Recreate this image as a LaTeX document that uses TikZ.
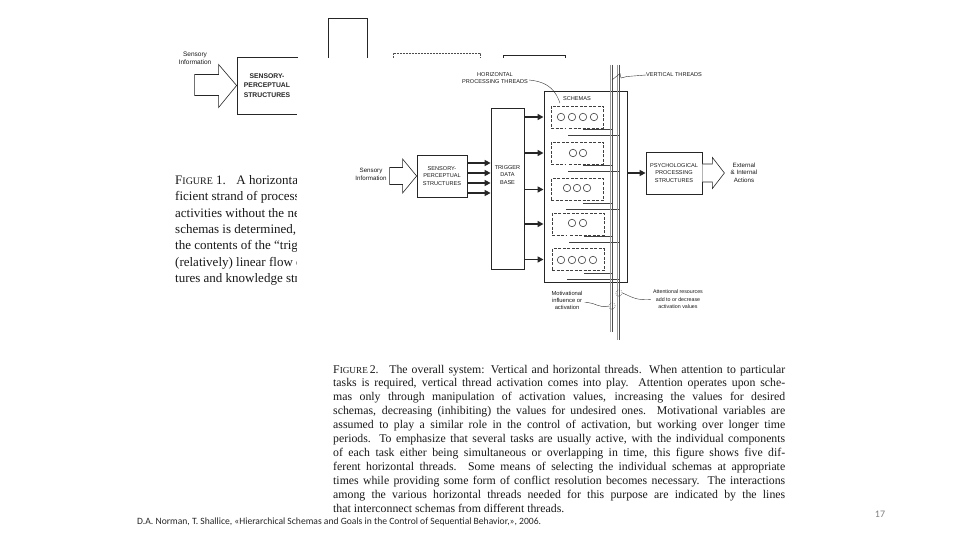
\documentclass[tikz,border=0pt]{standalone}
\usepackage{fontspec}
\setmainfont{Liberation Serif}
\newfontfamily\diag{Liberation Sans}
\newfontfamily\slide{Carlito}
\usetikzlibrary{arrows.meta,calc}
\begin{document}
\begin{tikzpicture}[x=1pt,y=-1pt,
  sbox/.style={draw=black!85, line width=0.8pt, inner sep=0pt},
  lab/.style={font=\diag\fontsize{5.6}{7.2}\selectfont, align=center, inner sep=0pt, text=black!90},
  labb/.style={font=\diag\bfseries\fontsize{6.8}{9.6}\selectfont, align=center, inner sep=0pt, text=black!85},
  hand/.style={font=\diag\fontsize{6.2}{7.6}\selectfont, align=center, inner sep=0pt, text=black!90},
  fat/.style={draw=black!85, line width=1.6pt, -{Triangle[length=6pt,width=6pt]}},
  pipe/.style={draw=black!75, line width=0.45pt, double=white, double distance=1.1pt},
  thr/.style={draw=black!70, line width=0.8pt},
  schema/.style={draw=black!75, dash pattern=on 3pt off 1.5pt, line width=0.5pt, minimum width=52pt, minimum height=22pt, inner sep=0pt},
  blob/.style={circle, draw=black!80, line width=0.55pt, minimum size=7.5pt, inner sep=0pt},
  dblob/.style={circle, draw=black!70, dash pattern=on 1pt off 1pt, line width=0.4pt, minimum size=6.5pt, inner sep=0pt},
  lead/.style={draw=black!80, line width=0.4pt},
  capt/.style={font=\fontsize{11.8}{13.9}\selectfont, anchor=base west, inner sep=0pt, text=black!90},
  capa/.style={font=\fontsize{13}{16}\selectfont, anchor=base west, inner sep=0pt, text=black!90},
  hollow/.style={draw=black!85, line width=0.6pt, fill=white},
]
\useasboundingbox (0,0) rectangle (960,540);
\fill[white] (0,0) rectangle (960,540);

% ---------------- Figure 1 (partly hidden) ----------------
\node[hand, font=\diag\fontsize{6.5}{8.5}\selectfont] (si1) at (195,58.5) {Sensory\\Information};
\node[sbox, minimum width=60pt, minimum height=57pt, labb] (sp1) at (267,85.5) {SENSORY-\\PERCEPTUAL\\STRUCTURES};
\draw[hollow, shift={(sp1.west)}] (0,0) -- (-18,-21) -- (-18,-11) -- (-42,-11) -- (-42,10) -- (-18,10) -- (-18,22) -- cycle;
\node[sbox, minimum width=39pt, minimum height=60pt] (tb1) at (347.5,48) {};
\node[draw=black!70, dash pattern=on 2pt off 1pt, line width=0.5pt, minimum width=87pt, minimum height=30pt, inner sep=0pt] (db1) at (436.5,68) {};
\node[sbox, minimum width=62pt, minimum height=30pt] (sb1) at (534,70) {};

\node[capa] (c1a) at (175,184.5) {F{\fontsize{10}{12}\selectfont IGURE} 1.\hspace{0.8em}A horizontal thread};
\node[capa] (c1b) at (175,200.8) {ficient strand of processing};
\node[capa] (c1c) at (175,217.1) {activities without the need};
\node[capa] (c1d) at (175,233.4) {schemas is determined, and};
\node[capa] (c1e) at (175,249.7) {the contents of the “trigger};
\node[capa] (c1f) at (175,266.0) {(relatively) linear flow of};
\node[capa] (c1g) at (175,282.3) {tures and knowledge struc};

% white scan of figure 2 covering figure 1
\fill[white] (297,58) rectangle (800,515);

% ---------------- Figure 2 ----------------
\node[hand] (si2) at (371,174.5) {Sensory\\Information};
\node[sbox, minimum width=50pt, minimum height=42pt, lab] (sp2) at (442,176) {SENSORY-\\PERCEPTUAL\\STRUCTURES};
\draw[hollow, shift={(sp2.west)}] (0,0) -- (-14,-17) -- (-14,-8.5) -- (-27,-8.5) -- (-27,8.5) -- (-14,8.5) -- (-14,17) -- cycle;

\node[sbox, minimum width=33pt, minimum height=161pt] (trig) at (507.5,188.5) {};
\node[lab] (trigl) at (507.5,175) {TRIGGER\\DATA\\BASE};

\foreach \yy in {163,173,183,193}
  \draw[fat] (sp2.east |- 0,\yy) -- (trig.west |- 0,\yy);

\node[sbox, line width=1pt, minimum width=83pt, minimum height=190pt] (frame) at (585.5,187) {};
\node[lab] (schl) at (577,99) {SCHEMAS};

\node[schema] (s1) at (577,117) {};
\node[schema] (s2) at (577,153) {};
\node[schema] (s3) at (577,189.5) {};
\node[schema] (s4) at (578,224) {};
\node[schema] (s5) at (578,259.5) {};

\foreach \xx [count=\k] in {561,572,583,594} \node[blob] (b1\k) at (\xx,117) {};
\foreach \xx [count=\k] in {573,583} \node[blob] (b2\k) at (\xx,153) {};
\foreach \xx [count=\k] in {567,577,587} \node[blob] (b3\k) at (\xx,188) {};
\foreach \xx [count=\k] in {572,583} \node[blob] (b4\k) at (\xx,223) {};
\foreach \xx [count=\k] in {561,572,582,593} \node[blob] (b5\k) at (\xx,260) {};

\foreach \s in {s1,s2,s3,s4,s5}
  \draw[fat] (trig.east |- \s) -- (frame.west |- \s);

% vertical threads
\coordinate (t1top) at (612,65);
\coordinate (t1bot) at (612,332);
\coordinate (t2top) at (619,65);
\coordinate (t2bot) at (619,340);

\foreach \s in {s1,s2,s3,s4,s5}{
  \draw[pipe] ([xshift=6pt,yshift=-2pt]\s.south) -- ([yshift=-2pt]\s.south -| t1top);
  \draw[pipe] ([xshift=-10pt]\s.south) |- ([yshift=-8pt]\s.south -| t2top);
}
\draw[thr] (t1top) -- (t1bot);
\draw[thr] (t2top) -- (t2bot);
\draw[draw=black!40, line width=0.4pt] ([xshift=-2pt]t1top) -- ([xshift=-2pt]t1bot);
\draw[draw=black!40, line width=0.4pt] ([xshift=-1.5pt]t2top) -- ([xshift=-1.5pt]t2bot);

% psychological processing
\node[sbox, minimum width=56pt, minimum height=42pt, lab] (psy) at (674,173) {PSYCHOLOGICAL\\PROCESSING\\STRUCTURES};
\draw[fat] (frame.east |- psy) -- (psy.west);
\draw[hollow, shift={(psy.east)}] (0,-9) -- (10,-9) -- (10,-15.5) -- (22,0) -- (10,15.5) -- (10,9) -- (0,9);
\node[hand] (ext) at (744,172.5) {External\\\& Internal\\Actions};

% labels and leaders
\node[lab] (hpt) at (495,78) {HORIZONTAL\\PROCESSING THREADS};
\draw[lead] ([shift={(1,2)}]hpt.east) .. controls (550,82) and (556,92) .. ([shift={(-3,4)}]schl.west);

\node[lab, anchor=west] (vt) at (646,75) {VERTICAL THREADS};
\draw[lead] (t1top |- 0,80) -- (620,73.5) -- (621,78) -- (627,76.5) -- (vt.west);

\node[hand, font=\diag\fontsize{5.8}{7.4}\selectfont] (mot) at (567,300.5) {Motivational\\influence or\\activation};
\node[dblob] (m1) at (612,306) {};
\draw[lead] ([shift={(2,2)}]mot.east) .. controls (595,302) and (600,309) .. (m1.west);

\node[hand, font=\diag\fontsize{5.3}{7.4}\selectfont] (att) at (678,299.5) {Attentional resources\\add to or decrease\\activation values};
\node[dblob] (a1) at (619,293) {};
\draw[lead] (a1.east) .. controls (630,296) and (636,301) .. ([xshift=-2pt]att.west);

% ---------------- caption of figure 2 ----------------
\node[capt] (l1) at (333,373.0) {\makebox[452pt][s]{F{\fontsize{9.2}{11}\selectfont IGURE}\,2.\hspace{0.9em}The overall system: Vertical and horizontal threads. When attention to particular}};
\node[capt] (l2) at (333,386.9) {\makebox[452pt][s]{tasks is required, vertical thread activation comes into play. Attention operates upon sche-}};
\node[capt] (l3) at (333,400.8) {\makebox[452pt][s]{mas only through manipulation of activation values, increasing the values for desired}};
\node[capt] (l4) at (333,414.7) {\makebox[452pt][s]{schemas, decreasing (inhibiting) the values for undesired ones. Motivational variables are}};
\node[capt] (l5) at (333,428.6) {\makebox[452pt][s]{assumed to play a similar role in the control of activation, but working over longer time}};
\node[capt] (l6) at (333,442.5) {\makebox[452pt][s]{periods. To emphasize that several tasks are usually active, with the individual components}};
\node[capt] (l7) at (333,456.4) {\makebox[452pt][s]{of each task either being simultaneous or overlapping in time, this figure shows five dif-}};
\node[capt] (l8) at (333,470.3) {\makebox[452pt][s]{ferent horizontal threads. Some means of selecting the individual schemas at appropriate}};
\node[capt] (l9) at (333,484.2) {\makebox[452pt][s]{times while providing some form of conflict resolution becomes necessary. The interactions}};
\node[capt] (l10) at (333,498.1) {\makebox[452pt][s]{among the various horizontal threads needed for this purpose are indicated by the lines}};
\node[capt] (l11) at (333,512.0) {that interconnect schemas from different threads.};

% ---------------- slide ----------------
\node[font=\slide\fontsize{9.6}{12}\selectfont, anchor=west, inner sep=0pt, text=black!85] (cite) at (137,522) {D.A. Norman, T. Shallice, «Hierarchical Schemas and Goals in the Control of Sequential Behavior,», 2006.};
\node[font=\slide\fontsize{10}{12}\selectfont, inner sep=0pt, text=black!50] (pg) at (880,514) {17};
\end{tikzpicture}
\end{document}
